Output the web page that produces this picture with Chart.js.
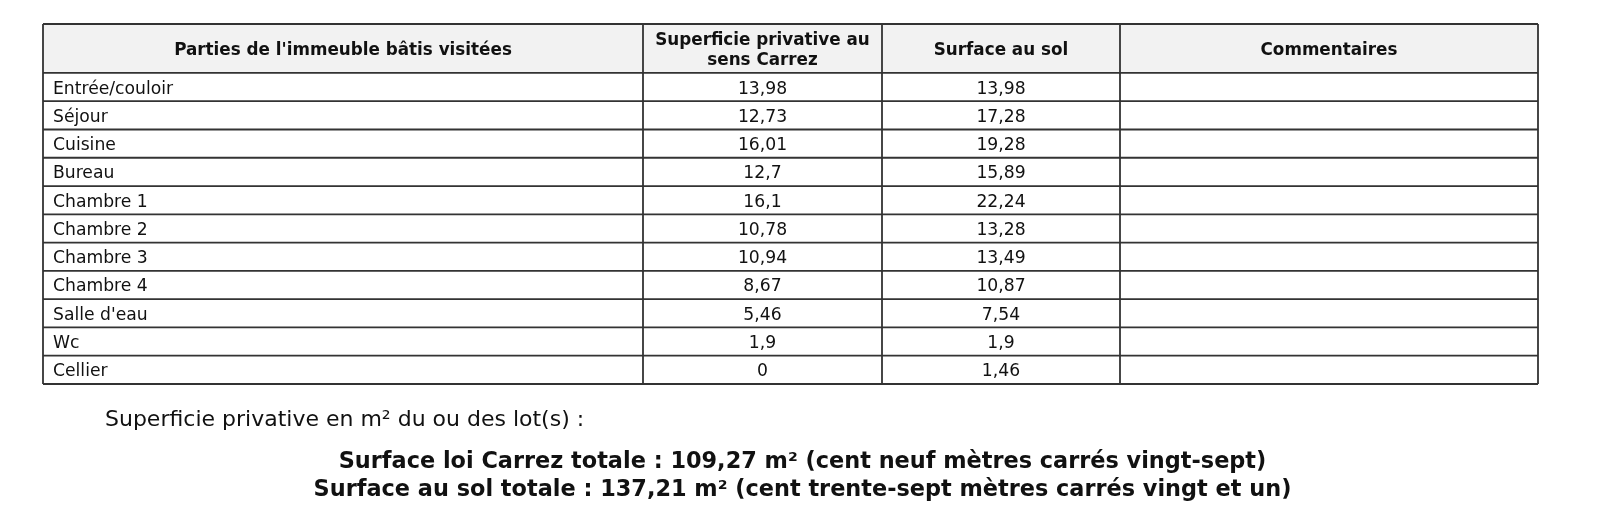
<!DOCTYPE html>
<html>
<head>
<meta charset="utf-8">
<script src="https://cdn.jsdelivr.net/npm/chart.js@4/dist/chart.umd.min.js"></script>
<style>
  html, body { margin: 0; padding: 0; background: #ffffff; }
  #wrap { width: 1600px; height: 529px; }
</style>
</head>
<body>
<div id="wrap"><canvas id="surfaceChart" width="1600" height="529"></canvas></div>
<script>
// Table data
var rooms = ["Entrée/couloir", "Séjour", "Cuisine", "Bureau", "Chambre 1", "Chambre 2", "Chambre 3", "Chambre 4", "Salle d'eau", "Wc", "Cellier"];
var carrez = [13.98, 12.73, 16.01, 12.7, 16.1, 10.78, 10.94, 8.67, 5.46, 1.9, 0];
var sol = [13.98, 17.28, 19.28, 15.89, 22.24, 13.28, 13.49, 10.87, 7.54, 1.9, 1.46];
var comments = ["", "", "", "", "", "", "", "", "", "", ""];
var headers = [["Parties de l'immeuble bâtis visitées"], ["Superficie privative au", "sens Carrez"], ["Surface au sol"], ["Commentaires"]];
var introText = "Superficie privative en m² du ou des lot(s) :";
var carrezWords = "cent neuf mètres carrés vingt-sept";
var solWords = "cent trente-sept mètres carrés vingt et un";

// layout (column edges in table units, header height in rows)
var colEdges = [0, 600, 839, 1077, 1495];
var headerRows = 1.73;

var FONT = "'DejaVu Sans', Verdana, sans-serif";
var LINE = "#333333";

function fmt(v) {
    return String(Math.round(v * 100) / 100).replace(".", ",");
}

function total(arr) {
    var i, t = 0;
    for (i = 0; i < arr.length; i++)
        t += arr[i];
    return t;
}

var tablePlugin = {
    id: "tablePlugin",
    afterDraw: function (chart) {
        var ctx = chart.ctx;
        var x = chart.scales.x, y = chart.scales.y;
        var left = x.getPixelForValue(colEdges[0]);
        var right = x.getPixelForValue(colEdges[colEdges.length - 1]);
        var top = y.getPixelForValue(-headerRows);
        var headBottom = y.getPixelForValue(0);
        var bottom = y.getPixelForValue(rooms.length);
        var i, j;

        ctx.save();
        // header background
        ctx.fillStyle = "#f2f2f2";
        ctx.fillRect(left, top, right - left, headBottom - top);

        // header texts
        ctx.fillStyle = "#111111";
        ctx.font = "bold 16.8px " + FONT;
        ctx.textAlign = "center";
        ctx.textBaseline = "middle";
        for (j = 0; j < headers.length; j++) {
            var cx = (x.getPixelForValue(colEdges[j]) + x.getPixelForValue(colEdges[j + 1])) / 2;
            var cy = (top + headBottom) / 2 + 2;
            var lines = headers[j];
            for (i = 0; i < lines.length; i++) {
                ctx.fillText(lines[i], cx, cy + (i - (lines.length - 1) / 2) * 19.5);
            }
        }

        // body cells
        ctx.font = "17.2px " + FONT;
        var columns = [rooms, carrez.map(fmt), sol.map(fmt), comments];
        for (i = 0; i < rooms.length; i++) {
            var ry = y.getPixelForValue(i + 0.5);
            for (j = 0; j < columns.length; j++) {
                var l = x.getPixelForValue(colEdges[j]);
                var r = x.getPixelForValue(colEdges[j + 1]);
                if (j == 0) {
                    ctx.textAlign = "left";
                    ctx.fillText(columns[j][i], l + 10, ry + 2);
                } else {
                    ctx.textAlign = "center";
                    ctx.fillText(columns[j][i], (l + r) / 2, ry + 2);
                }
            }
        }

        // grid lines
        ctx.strokeStyle = LINE;
        ctx.lineWidth = 1.8;
        ctx.beginPath();
        for (i = -1; i <= rooms.length; i++) {
            var gy = i < 0 ? top : y.getPixelForValue(i);
            ctx.moveTo(left, gy);
            ctx.lineTo(right, gy);
        }
        for (j = 0; j < colEdges.length; j++) {
            var gx = x.getPixelForValue(colEdges[j]);
            ctx.moveTo(gx, top);
            ctx.lineTo(gx, bottom);
        }
        ctx.stroke();

        // summary below the table
        ctx.fillStyle = "#111111";
        ctx.textAlign = "left";
        ctx.font = "22px " + FONT;
        ctx.fillText(introText, 105, bottom + 36);
        ctx.textAlign = "center";
        ctx.font = "bold 22.4px " + FONT;
        var mid = (left + right) / 2 + 12;
        ctx.fillText("Surface loi Carrez totale : " + fmt(total(carrez)) + " m² (" + carrezWords + ")", mid, bottom + 78);
        ctx.fillText("Surface au sol totale : " + fmt(total(sol)) + " m² (" + solWords + ")", mid, bottom + 106);
        ctx.restore();
    }
};

var surfaceChart = new Chart(document.getElementById("surfaceChart").getContext("2d"), {
    type: "scatter",
    data: { datasets: [] },
    options: {
        responsive: false,
        animation: false,
        devicePixelRatio: 1,
        layout: { padding: { left: 43, right: 62, top: 24, bottom: 145 } },
        plugins: { legend: { display: false }, tooltip: { enabled: false } },
        scales: {
            x: { type: "linear", display: false, min: colEdges[0], max: colEdges[colEdges.length - 1] },
            y: { type: "linear", display: false, reverse: true, min: -headerRows, max: rooms.length }
        }
    },
    plugins: [tablePlugin]
});
</script>
</body>
</html>
